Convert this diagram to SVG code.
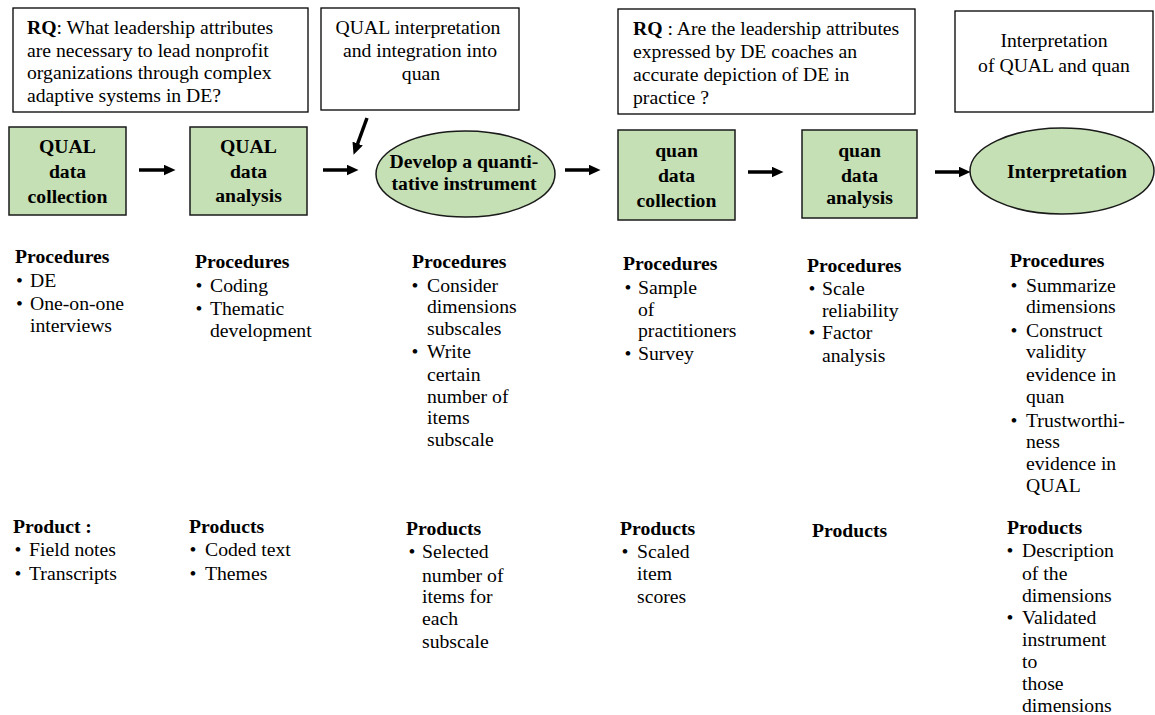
<svg xmlns="http://www.w3.org/2000/svg" width="1155" height="715" viewBox="0 0 1155 715" font-family="Liberation Serif, Times New Roman, serif" font-size="19.7">
<defs>
<style>
text{font-family:'Liberation Serif','Times New Roman',serif;font-size:19.7px;fill:#000}
.b{font-weight:bold}
.c{text-anchor:middle}
.box{fill:#fff;stroke:#000;stroke-width:1.3}
.g{fill:#c5e0b4;stroke:#1a1a1a;stroke-width:1.5}
.ar{stroke:#000;stroke-width:3.5;fill:none;marker-end:url(#ah)}
</style>
<marker id="ah" markerUnits="userSpaceOnUse" markerWidth="12" markerHeight="11" refX="0.5" refY="5.5" orient="auto">
<path d="M0,0 L12,5.5 L0,11 z" fill="#000"/>
</marker>
</defs>
<rect width="1155" height="715" fill="#fff"/>

<g id="rq1">
<rect class="box" x="13" y="8" width="295" height="104"/>
<text x="27" y="34"><tspan class="b">RQ</tspan>: What leadership attributes</text>
<text x="27" y="57">are necessary to lead nonprofit</text>
<text x="27" y="79">organizations through complex</text>
<text x="27" y="102">adaptive systems in DE?</text>
</g>

<g id="integration">
<rect class="box" x="321" y="8" width="198" height="102"/>
<text class="c" x="418" y="34">QUAL interpretation</text>
<text class="c" x="420" y="57">and integration into</text>
<text class="c" x="421" y="80">quan</text>
</g>

<g id="rq2">
<rect class="box" x="618" y="9" width="297" height="105"/>
<text x="633" y="35"><tspan class="b">RQ</tspan> : Are the leadership attributes</text>
<text x="633" y="58">expressed by DE coaches an</text>
<text x="633" y="81">accurate depiction of DE in</text>
<text x="633" y="104">practice ?</text>
</g>

<g id="interp-box">
<rect class="box" x="955" y="11" width="198" height="101"/>
<text class="c" x="1054" y="47">Interpretation</text>
<text class="c" x="1054" y="72">of QUAL and quan</text>
</g>

<g id="qual-collection">
<rect class="g" x="9" y="127" width="117" height="88"/>
<text class="b c" x="67.5" y="153">QUAL</text>
<text class="b c" x="67.5" y="178">data</text>
<text class="b c" x="67.5" y="203">collection</text>
</g>

<g id="qual-analysis">
<rect class="g" x="190" y="127" width="117" height="88"/>
<text class="b c" x="248.5" y="153">QUAL</text>
<text class="b c" x="248.5" y="178">data</text>
<text class="b c" x="248.5" y="202">analysis</text>
</g>

<g id="develop">
<ellipse class="g" cx="465.5" cy="174" rx="89.5" ry="43"/>
<text class="b c" x="464" y="168">Develop a quanti-</text>
<text class="b c" x="464" y="190">tative instrument</text>
</g>

<g id="quan-collection">
<rect class="g" x="618" y="130" width="117" height="90"/>
<text class="b c" x="676.5" y="157">quan</text>
<text class="b c" x="676.5" y="182">data</text>
<text class="b c" x="676.5" y="207">collection</text>
</g>

<g id="quan-analysis">
<rect class="g" x="802" y="130" width="115" height="88"/>
<text class="b c" x="859.5" y="157">quan</text>
<text class="b c" x="859.5" y="182">data</text>
<text class="b c" x="859.5" y="204">analysis</text>
</g>

<g id="interpretation">
<ellipse class="g" cx="1062" cy="171" rx="92" ry="43"/>
<text class="b c" x="1067" y="178">Interpretation</text>
</g>

<g id="connectors">
<line class="ar" x1="139" y1="170" x2="164" y2="170"/>
<line class="ar" x1="323" y1="170" x2="347" y2="170"/>
<line class="ar" x1="367" y1="118" x2="357.5" y2="144"/>
<line class="ar" x1="565" y1="170" x2="589" y2="170"/>
<line class="ar" x1="748" y1="172" x2="772" y2="172"/>
<line class="ar" x1="935" y1="172" x2="959" y2="172"/>
</g>

<g id="proc1">
<text class="b" x="15" y="263">Procedures</text>
<text><tspan x="16" y="287">•</tspan><tspan x="30" y="287">DE</tspan><tspan x="16" y="310">•</tspan><tspan x="30" y="310">One-on-one</tspan><tspan x="30" y="332">interviews</tspan></text>
</g>
<g id="proc2">
<text class="b" x="195" y="268">Procedures</text>
<text><tspan x="195.5" y="292">•</tspan><tspan x="210" y="292">Coding</tspan><tspan x="195.5" y="315">•</tspan><tspan x="210" y="315">Thematic</tspan><tspan x="210" y="337">development</tspan></text>
</g>
<g id="proc3">
<text class="b" x="412" y="268">Procedures</text>
<text><tspan x="411.5" y="292">•</tspan><tspan x="427" y="292">Consider</tspan><tspan x="427" y="313">dimensions</tspan><tspan x="427" y="335">subscales</tspan><tspan x="411.5" y="358">•</tspan><tspan x="427" y="358">Write</tspan><tspan x="427" y="381">certain</tspan><tspan x="427" y="403">number of</tspan><tspan x="427" y="424">items</tspan><tspan x="427" y="446">subscale</tspan></text>
</g>
<g id="proc4">
<text class="b" x="623" y="270">Procedures</text>
<text><tspan x="624.5" y="294">•</tspan><tspan x="638" y="294">Sample</tspan><tspan x="638" y="316">of</tspan><tspan x="638" y="337">practitioners</tspan><tspan x="624.5" y="360">•</tspan><tspan x="638" y="360">Survey</tspan></text>
</g>
<g id="proc5">
<text class="b" x="807" y="272">Procedures</text>
<text><tspan x="808.5" y="295">•</tspan><tspan x="822" y="295">Scale</tspan><tspan x="822" y="317">reliability</tspan><tspan x="808.5" y="339">•</tspan><tspan x="822" y="339">Factor</tspan><tspan x="822" y="362">analysis</tspan></text>
</g>
<g id="proc6">
<text class="b" x="1010" y="267">Procedures</text>
<text><tspan x="1010.5" y="292">•</tspan><tspan x="1026" y="292">Summarize</tspan><tspan x="1026" y="313">dimensions</tspan><tspan x="1010.5" y="337">•</tspan><tspan x="1026" y="337">Construct</tspan><tspan x="1026" y="358">validity</tspan><tspan x="1026" y="381">evidence in</tspan><tspan x="1026" y="403">quan</tspan><tspan x="1010.5" y="427">•</tspan><tspan x="1026" y="427">Trustworthi-</tspan><tspan x="1026" y="448">ness</tspan><tspan x="1026" y="470">evidence in</tspan><tspan x="1026" y="492">QUAL</tspan></text>
</g>

<g id="prod1">
<text class="b" x="13" y="533">Product :</text>
<text><tspan x="14.5" y="556">•</tspan><tspan x="29" y="556">Field notes</tspan><tspan x="14.5" y="580">•</tspan><tspan x="29" y="580">Transcripts</tspan></text>
</g>
<g id="prod2">
<text class="b" x="189" y="533">Products</text>
<text><tspan x="189.5" y="556">•</tspan><tspan x="205" y="556">Coded text</tspan><tspan x="189.5" y="580">•</tspan><tspan x="205" y="580">Themes</tspan></text>
</g>
<g id="prod3">
<text class="b" x="406" y="535">Products</text>
<text><tspan x="408.5" y="558">•</tspan><tspan x="422" y="558">Selected</tspan><tspan x="422" y="582">number of</tspan><tspan x="422" y="603">items for</tspan><tspan x="422" y="625">each</tspan><tspan x="422" y="648">subscale</tspan></text>
</g>
<g id="prod4">
<text class="b" x="620" y="535">Products</text>
<text><tspan x="621.5" y="558">•</tspan><tspan x="637" y="558">Scaled</tspan><tspan x="637" y="580">item</tspan><tspan x="637" y="603">scores</tspan></text>
</g>
<g id="prod5">
<text class="b" x="812" y="537">Products</text>
</g>
<g id="prod6">
<text class="b" x="1007" y="534">Products</text>
<text><tspan x="1006.5" y="557">•</tspan><tspan x="1022" y="557">Description</tspan><tspan x="1022" y="580">of the</tspan><tspan x="1022" y="602">dimensions</tspan><tspan x="1006.5" y="624">•</tspan><tspan x="1022" y="624">Validated</tspan><tspan x="1022" y="646">instrument</tspan><tspan x="1022" y="668">to</tspan><tspan x="1022" y="690">those</tspan><tspan x="1022" y="712">dimensions</tspan></text>
</g>
</svg>
